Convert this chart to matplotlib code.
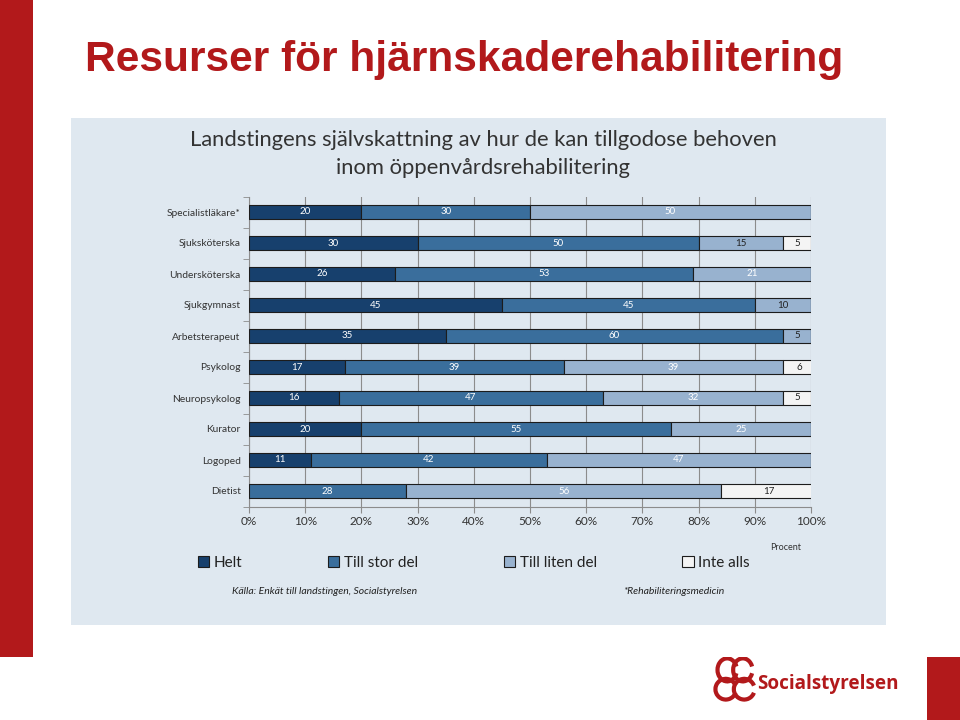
import matplotlib.pyplot as plt
from matplotlib.patches import Rectangle, Patch, Arc

plt.rcParams['font.family'] = ['Lato', 'DejaVu Sans']

categories = ['Specialistläkare*', 'Sjuksköterska', 'Undersköterska', 'Sjukgymnast',
              'Arbetsterapeut', 'Psykolog', 'Neuropsykolog', 'Kurator', 'Logoped', 'Dietist']
helt = [20, 30, 26, 45, 35, 17, 16, 20, 11, 0]
stor_del = [30, 50, 53, 45, 60, 39, 47, 55, 42, 28]
liten_del = [50, 15, 21, 10, 5, 39, 32, 25, 47, 56]
inte_alls = [0, 5, 0, 0, 0, 6, 5, 0, 0, 17]
series_names = ['Helt', 'Till stor del', 'Till liten del', 'Inte alls']
colors = ['#17406D', '#3A6E9C', '#98B2CF', '#F4F4F4']
xticks = [0, 10, 20, 30, 40, 50, 60, 70, 80, 90, 100]

red = '#B2191B'
bg = '#DFE8F0'

fig = plt.figure(figsize=(9.6, 7.2), dpi=100)
fig.patch.set_facecolor('white')

# slide decorations
fig.add_artist(Rectangle((0, 1 - 657/720), 33/960, 657/720, transform=fig.transFigure,
                         color=red, lw=0, zorder=-10))
fig.add_artist(Rectangle((927/960, 0), 33/960, 63/720, transform=fig.transFigure,
                         color=red, lw=0, zorder=-10))
fig.text(85/960, 1 - 60/720, 'Resurser för hjärnskaderehabilitering', color=red,
         fontsize=30.6, fontweight='bold', family='Liberation Sans', va='center', ha='left')

# chart panel
fig.add_artist(Rectangle((71/960, 1 - 625/720), 815/960, 507/720, transform=fig.transFigure,
                         color=bg, lw=0, zorder=-10))
fig.text(483/960, 1 - 154/720,
         'Landstingens självskattning av hur de kan tillgodose behoven\ninom öppenvårdsrehabilitering',
         ha='center', va='center', fontsize=15.8, color='#333333', linespacing=1.45)

ax = fig.add_axes([249/960, 1 - 506.5/720, 562/960, 310/720])
ax.set_facecolor('none')

y = list(range(len(categories)))
left = [0] * len(categories)
for name, vals, col in zip(series_names, [helt, stor_del, liten_del, inte_alls], colors):
    ax.barh(y, vals, left=left, height=0.42, color=col, edgecolor='#1C1C1C',
            linewidth=0.8, label=name, zorder=3)
    for i, v in enumerate(vals):
        if v > 0:
            tc = 'white'
            if col == colors[3] or (col == colors[2] and v < 16):
                tc = '#222222'
            ax.text(left[i] + v / 2, i, str(v), ha='center', va='center', fontsize=7,
                    color=tc, zorder=4)
    left = [l + v for l, v in zip(left, vals)]

ax.set_xlim(0, 100)
ax.set_ylim(len(categories) - 0.5, -0.5)
ax.set_xticks(xticks)
ax.set_xticklabels([f'{t}%' for t in xticks], fontsize=8.5, color='#333333')
ax.set_yticks(y)
ax.set_yticklabels(categories, fontsize=7.4, color='#333333')
ax.set_yticks([i - 0.5 for i in range(len(categories) + 1)], minor=True)
ax.tick_params(axis='y', which='major', length=0, pad=6)
ax.tick_params(axis='y', which='minor', length=4, color='#8C8C8C')
ax.tick_params(axis='x', length=4, color='#8C8C8C', pad=3)
ax.xaxis.grid(True, color='#8C8C8C', linewidth=0.8, zorder=0)
for s in ['top', 'right']:
    ax.spines[s].set_visible(False)
for s in ['left', 'bottom']:
    ax.spines[s].set_color('#8C8C8C')

handles = [Patch(facecolor=c, edgecolor='#1C1C1C', linewidth=0.8) for c in colors]
fig.legend(handles, series_names, loc='center left', bbox_to_anchor=(184/960, 1 - 563/720),
           ncol=4, frameon=False, fontsize=11, handlelength=0.75, handleheight=0.75,
           handletextpad=0.3, columnspacing=5.6, labelcolor='#222222')

fig.text(770/960, 1 - 548/720, 'Procent', fontsize=6.5, color='#333333', va='center')
fig.text(232/960, 1 - 592/720, 'Källa: Enkät till landstingen, Socialstyrelsen',
         fontsize=7.5, style='italic', color='#222222', va='center')
fig.text(623/960, 1 - 591/720, '*Rehabiliteringsmedicin', fontsize=7.5, style='italic',
         color='#222222', va='center')

# logo
logo = fig.add_axes([712/960, 1 - 703/720, 46/960, 46/720])
logo.set_xlim(0, 1)
logo.set_ylim(0, 1)
logo.axis('off')
for cx, cy, w, h in [(0.33, 0.72, 0.42, 0.5), (0.67, 0.72, 0.42, 0.5),
                     (0.3, 0.3, 0.45, 0.45), (0.7, 0.3, 0.45, 0.45)]:
    logo.add_patch(Arc((cx, cy), w, h, theta1=20, theta2=340, color=red, lw=3))
fig.text(757/960, 1 - 684/720, 'Socialstyrelsen', fontsize=13.6, fontweight='bold',
         color=red, va='center', ha='left', family='Open Sans')

fig.savefig('out.png', dpi=100)
